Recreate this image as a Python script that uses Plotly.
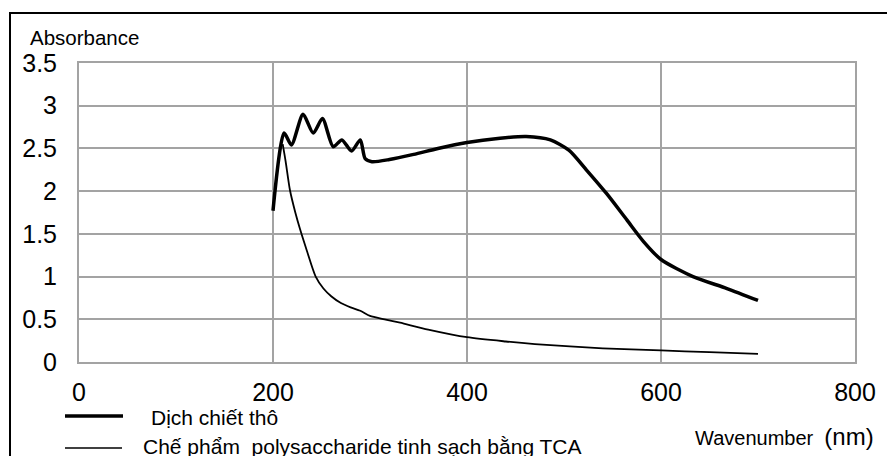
import plotly.graph_objects as go

# ---- data ----
crude_x = [200, 211.5, 219, 231, 241.5, 251, 262, 271, 281, 290, 295, 302, 320, 345, 370,
           400, 434, 461, 486, 505, 523, 544, 565, 582, 600, 633, 668, 700]
crude_y = [1.77, 2.68, 2.54, 2.90, 2.68, 2.85, 2.52, 2.60, 2.47, 2.60, 2.38, 2.345, 2.37, 2.43, 2.50,
           2.57, 2.62, 2.64, 2.60, 2.48, 2.25, 1.97, 1.66, 1.41, 1.20, 1.00, 0.86, 0.72]

pure_x = [210, 213, 217.5, 223, 228, 235, 244, 252, 260, 270, 280, 290, 300, 315, 331, 360,
          400, 440, 470, 540, 600, 650, 700]
pure_y = [2.55, 2.35, 2.01, 1.75, 1.55, 1.30, 1.00, 0.86, 0.77, 0.69, 0.64, 0.60, 0.54, 0.50, 0.46, 0.38,
          0.29, 0.24, 0.21, 0.16, 0.135, 0.115, 0.095]

series_names = ["Dịch chiết thô", "Chế phẩm\u00a0\u00a0polysaccharide tinh sạch bằng TCA"]
x_ticks = [0, 200, 400, 600, 800]
y_ticks = [0, 0.5, 1, 1.5, 2, 2.5, 3, 3.5]

W, H = 887, 456
L, R, T, B = 79, 32, 63, 94
PW, PH = W - L - R, H - T - B


def px(xp):
    return (xp - L) / PW


def py(yp):
    return (H - B - yp) / PH


FONT = "Liberation Sans, Arial, sans-serif"
GRID = "#a3a3a3"

fig = go.Figure()
fig.add_trace(go.Scatter(x=crude_x, y=crude_y, mode="lines", name=series_names[0],
                         line=dict(color="black", width=3.5, shape="spline", smoothing=0.7)))
fig.add_trace(go.Scatter(x=pure_x, y=pure_y, mode="lines", name=series_names[1],
                         line=dict(color="black", width=1.8, shape="spline", smoothing=0.7)))

fig.update_layout(
    width=W, height=H,
    margin=dict(l=L, r=R, t=T, b=B),
    paper_bgcolor="white", plot_bgcolor="white",
    showlegend=False,
    font=dict(family=FONT, color="black"),
)
fig.update_xaxes(range=[0, 800], tickvals=x_ticks, showgrid=True, gridcolor=GRID, gridwidth=1.5,
                 showline=True, linecolor=GRID, linewidth=2, mirror=True, zeroline=False,
                 ticks="", tickfont=dict(size=25, family=FONT, color="black"),
                 ticklabelstandoff=7)
fig.update_yaxes(range=[0, 3.5], tickvals=y_ticks, showgrid=True, gridcolor=GRID, gridwidth=1.5,
                 showline=True, linecolor=GRID, linewidth=2, mirror=True, zeroline=False,
                 ticks="", tickfont=dict(size=25, family=FONT, color="black"),
                 ticklabelstandoff=15)

shapes = [
    # outer frame
    dict(type="rect", xref="paper", yref="paper", x0=px(10), x1=px(895), y0=py(475), y1=py(13),
         line=dict(color="black", width=2), fillcolor="rgba(0,0,0,0)", layer="below"),
    # legend samples
    dict(type="line", xref="paper", yref="paper", x0=px(65), x1=px(123), y0=py(416), y1=py(416),
         line=dict(color="black", width=3.5)),
    dict(type="line", xref="paper", yref="paper", x0=px(65), x1=px(122), y0=py(448), y1=py(448),
         line=dict(color="black", width=1.5)),
]
annotations = [
    dict(text="Absorbance", xref="paper", yref="paper", x=px(28), y=py(37), xanchor="left",
         yanchor="middle", showarrow=False, font=dict(size=20.5, family=FONT, color="black")),
    dict(text="Wavenumber\u00a0\u00a0<span style='font-size:24px'>(nm)</span>", xref="paper", yref="paper",
         x=px(876), y=py(436), xanchor="right", yanchor="middle", showarrow=False,
         font=dict(size=20, family=FONT, color="black")),
    dict(text=series_names[0], xref="paper", yref="paper", x=px(149), y=py(417), xanchor="left",
         yanchor="middle", showarrow=False, font=dict(size=21, family=FONT, color="black")),
    dict(text=series_names[1], xref="paper", yref="paper", x=px(141), y=py(446), xanchor="left",
         yanchor="middle", showarrow=False, font=dict(size=21, family=FONT, color="black")),
]
fig.update_layout(shapes=shapes, annotations=annotations)

fig.write_html("out.html", config={"displayModeBar": False},
               post_script="document.body.style.margin='0';")
